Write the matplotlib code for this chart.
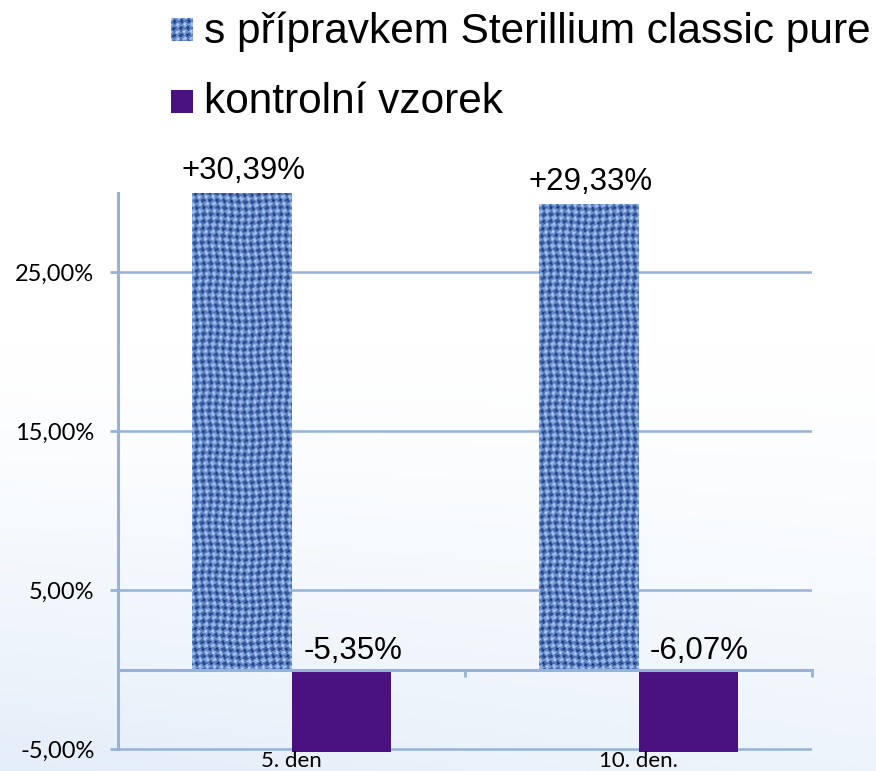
import numpy as np
import matplotlib.pyplot as plt
from matplotlib.colors import LinearSegmentedColormap, to_rgb

# data
categories = ['5. den', '10. den.']
s_pripravkem = [30.39, 29.33]
kontrolni = [-5.35, -6.07]
labels_s = ['+30,39%', '+29,33%']
labels_k = ['-5,35%', '-6,07%']
yticks = [-5, 5, 15, 25]
ytick_labels = ['-5,00%', '5,00%', '15,00%', '25,00%']
legend_labels = ['s přípravkem Sterillium classic pure', 'kontrolní vzorek']

W, H = 876, 771
axis_col = '#95b3d7'
purple = '#4a1181'
ytop = 30  # axis max, first bar is cut off there


def weave(nx, ny):
    # deterministic woven texture for the blue bars (styling only)
    yy, xx = np.mgrid[0:ny, 0:nx].astype(float)
    v = (0.52
         + 0.2 * np.cos(2 * np.pi * xx / 7.0 + 0.9 * np.sin(yy / 9.0))
         + 0.2 * np.cos(2 * np.pi * yy / 7.0 + 0.9 * np.sin(xx / 11.0))
         + 0.14 * np.sin(xx * 1.37 + yy * 0.53) * np.sin(yy * 1.11 - xx * 0.29)
         + 0.1 * np.sin(xx * 0.71 + yy * 2.3) * np.cos(yy * 0.37 - xx * 1.9))
    return np.clip(v, 0, 1)


cloth = LinearSegmentedColormap.from_list('cloth', ['#0f2b63', '#3f63a8', '#7c9fdc', '#c2d7f7'])
tex = weave(100, 500)

fig = plt.figure(figsize=(W / 100, H / 100), dpi=100)

# soft light blue background at the bottom
bg = fig.add_axes([0, 0, 1, 1], zorder=-10)
t = np.linspace(0, 1, 300)[:, None]
xs = np.linspace(0, 1, 300)[None, :]
a = np.clip((t - 0.45) / 0.55, 0, 1) ** 1.3 * (1 - 0.35 * xs)
blue = np.array(to_rgb('#e4eef9'))
img = (1 - a[..., None]) * np.ones(3) + a[..., None] * blue
bg.imshow(img, extent=[0, 1, 0, 1], aspect='auto', origin='upper')
bg.axis('off')

ax = fig.add_axes([118 / W, (H - 752) / H, (812 - 118) / W, (752 - 193) / H])
ax.patch.set_alpha(0)

x = np.arange(len(categories))
w = 0.288
bars_s = ax.bar(x - w / 2, s_pripravkem, w, color='#5b7dbf', zorder=3)
bars_k = ax.bar(x + w / 2, kontrolni, w, color=purple, zorder=3)

for b in bars_s:
    im = ax.imshow(tex, cmap=cloth, vmin=0, vmax=1, aspect='auto', interpolation='bilinear',
                   extent=[b.get_x(), b.get_x() + b.get_width(), 0, 31.5], zorder=3.5)
    # path + transform keeps the axes clip box as well
    im.set_clip_path(b.get_path(), b.get_transform())

ax.set_xlim(-0.5, 1.5)
ax.set_ylim(-5.19, ytop)

for sp in ['top', 'right']:
    ax.spines[sp].set_visible(False)
ax.spines['left'].set_color(axis_col)
ax.spines['left'].set_linewidth(2.2)
ax.spines['left'].set_bounds(-5, ytop)
ax.spines['bottom'].set_position(('data', 0))
ax.spines['bottom'].set_color(axis_col)
ax.spines['bottom'].set_linewidth(2.2)
ax.spines['bottom'].set_zorder(5)

ax.set_yticks(yticks)
ax.set_yticklabels(ytick_labels, fontsize=17, family='Lato')
ax.tick_params(axis='y', direction='out', length=6, width=2, color=axis_col, pad=11)
ax.yaxis.grid(True, color=axis_col, linewidth=1.8, zorder=1)
ax.set_axisbelow(True)

ax.set_xticks([-0.5, 0.5, 1.5])
ax.set_xticklabels([])
ax.tick_params(axis='x', direction='out', length=5, width=2, color=axis_col)

for i, cat in enumerate(categories):
    ax.annotate(cat, (x[i], 0), xycoords=('data', 'axes fraction'), xytext=(0, 1),
                textcoords='offset points', ha='center', va='top', fontsize=16, family='Lato')

for i in range(len(categories)):
    ax.annotate(labels_s[i], (x[i] - w / 2, min(s_pripravkem[i], ytop)), xytext=(1.5, 10),
                textcoords='offset points', ha='center', va='baseline',
                fontsize=22.5, family='Liberation Sans')
    ax.annotate(labels_k[i], (x[i] + w / 2, 0), xytext=(8, 7.5),
                textcoords='offset points', ha='center', va='baseline',
                fontsize=22.5, family='Liberation Sans')

# legend drawn by hand at the top
leg_y = [43, 113]
lax = fig.add_axes([171 / W, 1 - (leg_y[0] - 2) / H, 22 / W, 23 / H])
lax.imshow(tex[:23, :22], cmap=cloth, vmin=0, vmax=1, aspect='auto', interpolation='bilinear')
lax.axis('off')
lax2 = fig.add_axes([171 / W, 1 - leg_y[1] / H, 22 / W, 23 / H])
lax2.add_patch(plt.Rectangle((0, 0), 1, 1, color=purple))
lax2.axis('off')
for lbl, yy in zip(legend_labels, leg_y):
    fig.text(204 / W, 1 - yy / H, lbl, fontsize=30.5, va='baseline', family='Liberation Sans')

fig.savefig('out.png', dpi=100)
